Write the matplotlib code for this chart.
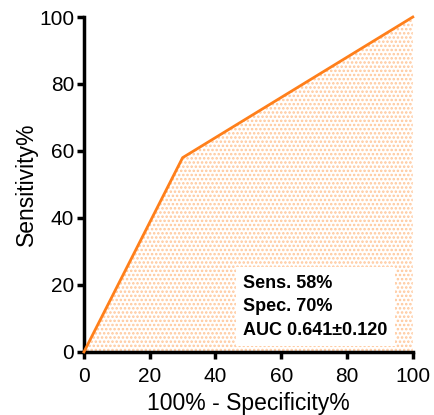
import matplotlib.pyplot as plt

plt.rcParams['font.family'] = ['Liberation Sans', 'DejaVu Sans']
plt.rcParams['hatch.linewidth'] = 1.2

# ROC curve points
fpr = [0, 30, 100]          # 100% - Specificity%
tpr = [0, 58, 100]          # Sensitivity%
ticks = [0, 20, 40, 60, 80, 100]
stats = ["Sens. 58%", "Spec. 70%", "AUC 0.641\u00b10.120"]

orange = '#ff7f1a'

fig = plt.figure(figsize=(4.35, 4.15), dpi=100)
ax = fig.add_axes([0.193, 0.152, 0.756, 0.807])

ax.fill_between(fpr, tpr, 0, facecolor='none', edgecolor='#ffc79a',
                hatch='....', linewidth=0)
ax.plot(fpr, tpr, color=orange, lw=2, clip_on=False, zorder=3)

ax.set_xlim(0, 100)
ax.set_ylim(0, 100)
ax.set_xticks(ticks)
ax.set_yticks(ticks)

for s in ['top', 'right']:
    ax.spines[s].set_visible(False)
for s in ['left', 'bottom']:
    ax.spines[s].set_linewidth(2.5)
ax.tick_params(width=2.5, length=5, labelsize=15)
ax.tick_params(axis='x', pad=6)
ax.tick_params(axis='y', pad=2)

ax.set_xlabel('100% - Specificity%', fontsize=16.5, labelpad=4)
ax.set_ylabel('Sensitivity%', fontsize=16.5, labelpad=1)

ax.text(48.5, 4, "\n".join(stats), fontsize=13, fontweight='bold',
        va='bottom', ha='left', linespacing=1.5, zorder=4,
        bbox=dict(facecolor='white', edgecolor='none', pad=5.5))

fig.savefig('out.png', dpi=100)
